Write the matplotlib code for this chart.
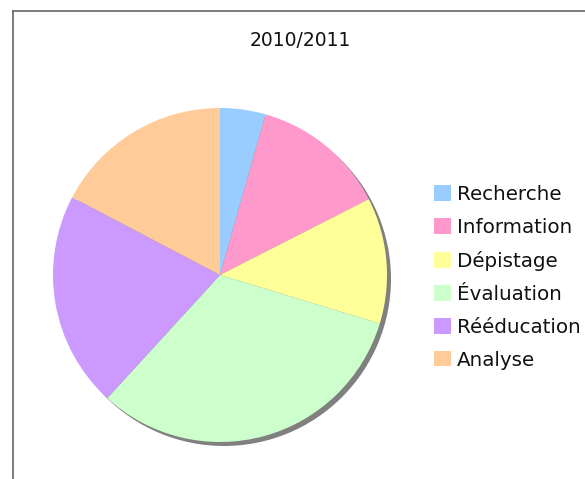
import matplotlib
matplotlib.use("Agg")
import matplotlib.pyplot as plt
from matplotlib.lines import Line2D
from matplotlib.patches import Circle

title = "2010/2011"
categories = ["Recherche", "Information", "Dépistage", "Évaluation", "Rééducation", "Analyse"]
values = [4.4, 13.1, 12.2, 32.1, 20.9, 17.3]
colors = ["#99ccff", "#ff99cc", "#ffff99", "#ccffcc", "#cc99ff", "#ffcc99"]

W, H = 585, 479
fig = plt.figure(figsize=(W / 100, H / 100), dpi=100)
plt.rcParams['font.family'] = ['DejaVu Sans']

# frame lines
fig.add_artist(Line2D([13 / W, 13 / W], [0, 1 - 11 / H], color="#666666", lw=1.2))
fig.add_artist(Line2D([13 / W, 1], [1 - 11 / H, 1 - 11 / H], color="#666666", lw=1.2))

cx, cy, r = 220, 275, 167
ax = fig.add_axes([(cx - r) / W, (H - cy - r) / H, 2 * r / W, 2 * r / H])

shadow = Circle((4 / r, -4 / r), 1.0, facecolor="#808080", edgecolor="none", zorder=0)
ax.add_patch(shadow)

wedges, _ = ax.pie(values, colors=colors, startangle=90, counterclock=False, radius=1.0,
                   wedgeprops=dict(linewidth=0, antialiased=True))
for w in wedges:
    w.set_zorder(1)
    w.set_clip_on(False)
shadow.set_clip_on(False)
ax.set_xlim(-1, 1)
ax.set_ylim(-1, 1)
ax.set_aspect("equal")
ax.axis("off")

fig.text(300 / W, 1 - 41 / H, title, ha="center", va="center", fontsize=13.5, color="#111111")

leg = fig.legend(wedges, categories, loc="upper left",
                 bbox_to_anchor=(434 / W, 1 - 185 / H), frameon=False,
                 fontsize=14.3, handlelength=0.84, handleheight=0.84,
                 handletextpad=0.32, labelspacing=0.7, borderpad=0, borderaxespad=0)
for t in leg.get_texts():
    t.set_color("#111111")

fig.savefig("out.png", dpi=100)
